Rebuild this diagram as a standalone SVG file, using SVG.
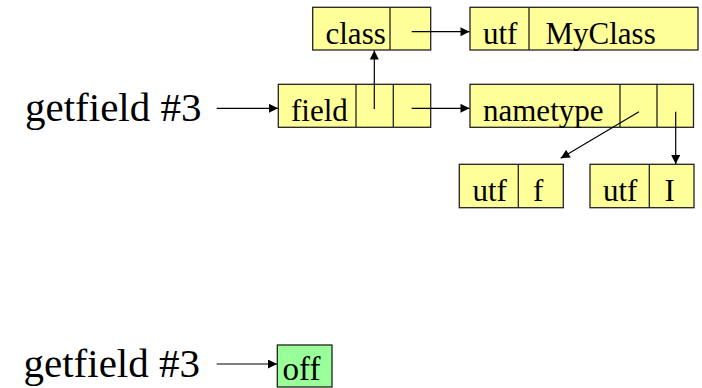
<svg xmlns="http://www.w3.org/2000/svg" width="702" height="388" viewBox="0 0 702 388">
<style>
.box{fill:#FFFF99;stroke:#222;stroke-width:1.3}
.green{fill:#99FF99;stroke:#222;stroke-width:1.3}
.div{stroke:#222;stroke-width:1.3;fill:none}
.t{font-family:"Liberation Serif","Times New Roman",serif;font-size:31px;fill:#000}
.big{font-family:"Liberation Serif","Times New Roman",serif;font-size:41px;fill:#000}
.c{stroke:#000;stroke-width:1.2;fill:none;marker-end:url(#ah)}
</style>
<defs>
<marker id="ah" viewBox="0 0 10 10" refX="10" refY="5" markerWidth="10" markerHeight="9" markerUnits="userSpaceOnUse" orient="auto">
<path d="M0,0 L10,5 L0,10 z" fill="#000"/>
</marker>
</defs>
<g id="label-top"><text class="big" x="25" y="120.5">getfield #3</text></g>
<g id="label-bottom"><text class="big" x="23.5" y="377">getfield #3</text></g>
<g id="class">
<rect class="box" x="312.7" y="7.3" width="118" height="42.7"/>
<line class="div" x1="390" y1="7.3" x2="390" y2="50"/>
<text class="t" x="325.5" y="44">class</text>
</g>
<g id="utf-myclass">
<rect class="box" x="470" y="7.3" width="228" height="42.7"/>
<line class="div" x1="529" y1="7.3" x2="529" y2="50"/>
<text class="t" x="483" y="44">utf</text>
<text class="t" x="545.5" y="44">MyClass</text>
</g>
<g id="field">
<rect class="box" x="278.3" y="84.3" width="152.4" height="43"/>
<line class="div" x1="356" y1="84.3" x2="356" y2="127.3"/>
<line class="div" x1="393.3" y1="84.3" x2="393.3" y2="127.3"/>
<text class="t" x="291" y="121">field</text>
</g>
<g id="nametype">
<rect class="box" x="470" y="84.3" width="223.5" height="43"/>
<line class="div" x1="620" y1="84.3" x2="620" y2="127.3"/>
<line class="div" x1="657" y1="84.3" x2="657" y2="127.3"/>
<text class="t" x="483" y="121">nametype</text>
</g>
<g id="utf-f">
<rect class="box" x="459.3" y="164.3" width="104" height="43.4"/>
<line class="div" x1="518.3" y1="164.3" x2="518.3" y2="207.7"/>
<text class="t" x="472.5" y="201">utf</text>
<text class="t" x="533" y="201">f</text>
</g>
<g id="utf-i">
<rect class="box" x="590" y="164.3" width="104" height="43.4"/>
<line class="div" x1="649.3" y1="164.3" x2="649.3" y2="207.7"/>
<text class="t" x="603" y="201">utf</text>
<text class="t" x="664.5" y="201">I</text>
</g>
<g id="off">
<rect class="green" x="277.3" y="345" width="54.7" height="42"/>
<text class="t" x="282.5" y="380" style="font-size:33px">off</text>
</g>
<g id="connectors">
<line class="c" x1="216.7" y1="108.3" x2="278" y2="108.3"/>
<line class="c" x1="374.3" y1="109" x2="374.3" y2="50.5"/>
<line class="c" x1="411.7" y1="31.7" x2="469.5" y2="31.7"/>
<line class="c" x1="411.7" y1="108.3" x2="469.5" y2="108.3"/>
<line class="c" x1="639" y1="111.7" x2="560.7" y2="158.3"/>
<line class="c" x1="675.7" y1="111.7" x2="675.7" y2="164"/>
<line class="c" x1="216.7" y1="364" x2="277" y2="364"/>
</g>
</svg>
